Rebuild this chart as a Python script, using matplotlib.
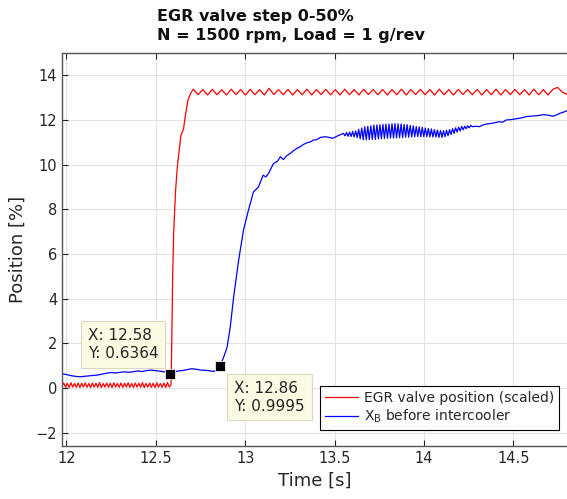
import numpy as np
import matplotlib
matplotlib.use("Agg")
import matplotlib.pyplot as plt

# ==============================
# DATA
# ==============================
# EGR valve position (scaled) - before the step, sawtooth around 0.1
red_pre_start, red_pre_end = 11.975, 12.585
red_pre = [0.10, 0.22, 0.03, 0.21, 0.02, 0.23, 0.04, 0.20, 0.03, 0.22,
           0.02, 0.21, 0.04, 0.23, 0.03, 0.20, 0.02, 0.22, 0.04, 0.21,
           0.03, 0.24, 0.02, 0.20, 0.04, 0.22, 0.03, 0.21, 0.02, 0.23,
           0.04, 0.20, 0.03, 0.22, 0.02, 0.21, 0.04, 0.23, 0.03, 0.20,
           0.02, 0.22, 0.04, 0.21, 0.03, 0.24, 0.02, 0.20, 0.04, 0.22,
           0.03, 0.21, 0.02, 0.23, 0.04, 0.20, 0.03, 0.22, 0.02, 0.24,
           0.04, 0.15]

# step rise
red_rise_t = [12.585, 12.589, 12.594, 12.600, 12.610, 12.620, 12.630,
              12.640, 12.655, 12.665, 12.680, 12.695]
red_rise = [0.15, 2.0, 5.0, 7.0, 8.8, 9.9, 10.6, 11.3, 11.6, 12.2, 12.9, 13.2]

# after the step, sawtooth around 13.25
red_post_start, red_post_end = 12.71, 14.80
red_post = [13.38, 13.13, 13.36, 13.12, 13.37, 13.13, 13.35, 13.12, 13.38, 13.14,
            13.36, 13.12, 13.37, 13.13, 13.36, 13.12, 13.42, 13.14, 13.36, 13.13,
            13.37, 13.12, 13.36, 13.13, 13.38, 13.12, 13.36, 13.14, 13.37, 13.13,
            13.36, 13.12, 13.38, 13.13, 13.36, 13.12, 13.37, 13.14, 13.36, 13.13,
            13.37, 13.12, 13.36, 13.13, 13.38, 13.12, 13.36, 13.14, 13.37, 13.13,
            13.36, 13.12, 13.38, 13.13, 13.36, 13.12, 13.37, 13.14, 13.36, 13.13,
            13.37, 13.12, 13.36, 13.13, 13.38, 13.12, 13.36, 13.14, 13.37, 13.13,
            13.36, 13.12, 13.38, 13.13, 13.36, 13.12, 13.37, 13.46, 13.25, 13.15]

# X_B before intercooler
blue_pre_start, blue_pre_end = 11.975, 12.85
blue_pre = [0.64, 0.60, 0.55, 0.52, 0.50, 0.52, 0.54, 0.56, 0.58, 0.62,
            0.66, 0.69, 0.67, 0.70, 0.72, 0.70, 0.73, 0.76, 0.74, 0.78,
            0.80, 0.77, 0.75, 0.72, 0.66, 0.72, 0.76, 0.78, 0.82, 0.86,
            0.84, 0.80, 0.79, 0.77, 0.74, 0.85]

blue_rise_t = [12.860, 12.878, 12.898, 12.916, 12.935, 12.963, 12.990, 13.018,
               13.046, 13.074, 13.100, 13.115, 13.130, 13.158, 13.180, 13.196,
               13.214, 13.232, 13.251, 13.270, 13.289, 13.307, 13.325, 13.345,
               13.365, 13.380, 13.400, 13.420, 13.450, 13.470, 13.490, 13.520]
blue_rise = [1.00, 1.35, 1.81, 2.71, 4.06, 5.71, 7.06, 7.96,
             8.78, 9.00, 9.53, 9.45, 9.60, 10.05, 10.15, 10.35,
             10.23, 10.40, 10.50, 10.62, 10.73, 10.80, 10.90, 10.98,
             11.02, 11.10, 11.12, 11.22, 11.25, 11.22, 11.18, 11.30]

# oscillating part
blue_osc_start, blue_osc_end = 13.55, 14.27
blue_osc = [11.40, 11.29, 11.44, 11.27, 11.46, 11.26, 11.49, 11.24, 11.51, 11.21,
            11.58, 11.16, 11.64, 11.12, 11.70, 11.11, 11.72, 11.12, 11.74, 11.13,
            11.77, 11.13, 11.78, 11.15, 11.79, 11.16, 11.80, 11.17, 11.81, 11.18,
            11.82, 11.19, 11.83, 11.19, 11.84, 11.20, 11.83, 11.21, 11.82, 11.21,
            11.80, 11.23, 11.79, 11.23, 11.76, 11.24, 11.74, 11.25, 11.71, 11.26,
            11.69, 11.25, 11.67, 11.25, 11.64, 11.25, 11.62, 11.24, 11.60, 11.24,
            11.57, 11.24, 11.55, 11.22, 11.53, 11.22, 11.52, 11.25, 11.54, 11.29,
            11.57, 11.35, 11.61, 11.40, 11.65, 11.46, 11.68, 11.51, 11.71, 11.56,
            11.72, 11.61, 11.74, 11.65, 11.76, 11.70]

blue_post_t = [14.29, 14.31, 14.33, 14.35, 14.38, 14.42, 14.44, 14.46, 14.49, 14.53,
               14.55, 14.57, 14.60, 14.64, 14.67, 14.69, 14.72, 14.74, 14.76, 14.78,
               14.80]
blue_post = [11.72, 11.70, 11.78, 11.82, 11.85, 11.92, 11.90, 12.00, 12.02, 12.07,
             12.10, 12.15, 12.17, 12.20, 12.24, 12.22, 12.17, 12.22, 12.30, 12.35,
             12.42]

# data tips
tip_x = [12.58, 12.86]
tip_y = [0.6364, 0.9995]

x_ticks = [12, 12.5, 13, 13.5, 14, 14.5]
x_tick_labels = ["12", "12.5", "13", "13.5", "14", "14.5"]
y_ticks = [-2, 0, 2, 4, 6, 8, 10, 12, 14]

# ==============================
# BUILD SERIES
# ==============================
red_t = np.concatenate([
    np.linspace(red_pre_start, red_pre_end, len(red_pre)),
    red_rise_t,
    np.linspace(red_post_start, red_post_end, len(red_post)),
])
red_y = np.concatenate([red_pre, red_rise, red_post])

blue_t = np.concatenate([
    np.linspace(blue_pre_start, blue_pre_end, len(blue_pre)),
    blue_rise_t,
    np.linspace(blue_osc_start, blue_osc_end, len(blue_osc)),
    blue_post_t,
])
blue_y = np.concatenate([blue_pre, blue_rise, blue_osc, blue_post])

# ==============================
# PLOT
# ==============================
txt_col = "#262626"
fig = plt.figure(figsize=(5.67, 4.99), dpi=100)
ax = fig.add_axes([62 / 567, 53 / 499, 1 - 62 / 567, 393 / 499])

ax.plot(red_t, red_y, color="red", lw=0.9, label="EGR valve position (scaled)")
ax.plot(blue_t, blue_y, color="blue", lw=0.9,
        label=r"X$_{\mathrm{B}}$ before intercooler")

ax.set_xlim(11.975, 14.8)
ax.set_ylim(-2.6, 15)
ax.set_xticks(x_ticks)
ax.set_xticklabels(x_tick_labels)
ax.set_yticks(y_ticks)

ax.grid(True, color="#e2e2e2", lw=0.8)
ax.set_axisbelow(True)
ax.tick_params(direction="in", length=4, width=0.8, colors=txt_col,
               labelsize=10.5, top=True, right=False)
for side in ["left", "bottom", "top"]:
    ax.spines[side].set_color("#555555")
    ax.spines[side].set_linewidth(1.0)
ax.spines["right"].set_visible(False)

ax.set_xlabel("Time [s]", fontsize=13, color=txt_col, labelpad=4)
ax.set_ylabel("Position [%]", fontsize=13, color=txt_col, labelpad=6)

fig.text(157 / 567, 1 - 26 / 499, "EGR valve step 0-50%\nN = 1500 rpm, Load = 1 g/rev",
         ha="left", va="center", fontsize=11.5, fontweight="bold",
         color="#111111", linespacing=1.38)

leg = ax.legend(loc="lower right", bbox_to_anchor=(0.984, 0.041),
                fontsize=10, frameon=True, fancybox=False, framealpha=1,
                edgecolor="black", handlelength=2.4, handletextpad=0.4,
                labelspacing=0.2, borderpad=0.35, borderaxespad=0)
leg.get_frame().set_linewidth(0.8)
for t in leg.get_texts():
    t.set_color(txt_col)

# data tips
ax.plot(tip_x, tip_y, "s", ms=7.5, mfc="black", mec="#f2f2d8", mew=0.6,
        zorder=6)
tip_box = dict(boxstyle="square,pad=0.45", fc="#fbfbe4", ec="#d8d8c4", lw=0.8)
offsets = [((-8.6, 9.0), "right", "bottom"), ((10, -10.8), "left", "top")]
for x, y, (off, ha, va) in zip(tip_x, tip_y, offsets):
    ax.annotate("X: %.2f\nY: %.4f" % (x, y), xy=(x, y), xytext=off,
                textcoords="offset points", ha=ha, va=va, fontsize=11,
                multialignment="left", color=txt_col, bbox=tip_box,
                zorder=7, linespacing=1.25)

fig.savefig("out.png", dpi=100)
